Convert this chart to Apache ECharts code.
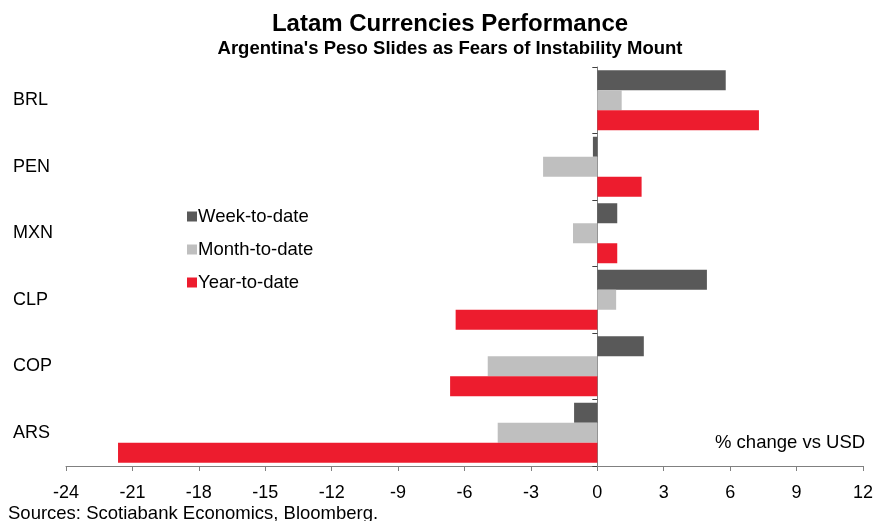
<!DOCTYPE html>
<html><head><meta charset="utf-8">
<script src="https://cdn.jsdelivr.net/npm/echarts@6/dist/echarts.min.js"></script>
<style>html,body{margin:0;padding:0;background:#fff}#c{width:876px;height:521px}</style>
</head><body><div id="c"></div>
<script>
var categories = ['BRL', 'PEN', 'MXN', 'CLP', 'COP', 'ARS'];
var weekToDate = [5.8, -0.2, 0.9, 4.95, 2.1, -1.05];
var monthToDate = [1.1, -2.45, -1.1, 0.85, -4.95, -4.5];
var yearToDate = [7.3, 2.0, 0.9, -6.4, -6.65, -21.65];
var xTicks = {min: -24, max: 12, interval: 3};
var seriesNames = ['Week-to-date', 'Month-to-date', 'Year-to-date'];
var colors = ['#595959', '#BFBFBF', '#ED1C2E'];

var chart = echarts.init(document.getElementById('c'), null, {renderer: 'canvas'});
var font = 'Liberation Sans, Arial, sans-serif';
var vals = [weekToDate, monthToDate, yearToDate];
var series = seriesNames.map(function (n, i) {
  return {
    name: n, type: 'bar', yAxisIndex: 0, data: vals[i],
    barWidth: 20, barGap: '0%',
    itemStyle: {color: colors[i]}
  };
});
chart.setOption({
  animation: false,
  textStyle: {fontFamily: font},
  title: [{
    text: 'Latam Currencies Performance',
    left: 445, top: 6, textAlign: 'center',
    textStyle: {fontSize: 24, fontWeight: 'bold', color: '#000', fontFamily: font, lineHeight: 26},
    subtext: "Argentina's Peso Slides as Fears of Instability Mount",
    subtextStyle: {fontSize: 18.5, fontWeight: 'bold', color: '#000', fontFamily: font, lineHeight: 20},
    itemGap: 2
  }],
  legend: {
    orient: 'vertical', left: 182, top: 202,
    data: seriesNames,
    icon: 'rect', itemWidth: 10, itemHeight: 10, itemGap: 14,
    textStyle: {fontSize: 18.5, color: '#000', fontFamily: font, padding: [0, 0, 0, -4]}
  },
  grid: {left: 66, right: 12, top: 67, bottom: 55},
  xAxis: {
    type: 'value', min: xTicks.min, max: xTicks.max, interval: xTicks.interval,
    splitLine: {show: false},
    axisLine: {show: true, onZero: false, lineStyle: {color: '#808080', width: 1}},
    axisTick: {show: true, length: 5, lineStyle: {color: '#808080'}},
    axisLabel: {fontSize: 18, color: '#000', margin: 18, fontFamily: font}
  },
  yAxis: [{
    type: 'category', data: categories, inverse: true,
    axisLine: {show: true, onZero: true, lineStyle: {color: '#808080', width: 1}},
    axisTick: {show: true, length: 5, lineStyle: {color: '#404040'}},
    axisLabel: {show: false},
    splitLine: {show: false}
  }, {
    type: 'category', data: categories, inverse: true, position: 'left',
    axisLine: {show: false, onZero: false}, axisTick: {show: false},
    axisLabel: {show: true, align: 'left', margin: 53, fontSize: 18, color: '#000', fontFamily: font},
    splitLine: {show: false}
  }],
  graphic: [{
    type: 'text', left: 715, top: 433,
    style: {text: '% change vs USD', font: '18.5px ' + font, fill: '#000'}
  }, {
    type: 'text', left: 8, top: 504,
    style: {text: 'Sources: Scotiabank Economics, Bloomberg.', font: '18.5px ' + font, fill: '#000'}
  }],
  series: series
});
</script></body></html>
